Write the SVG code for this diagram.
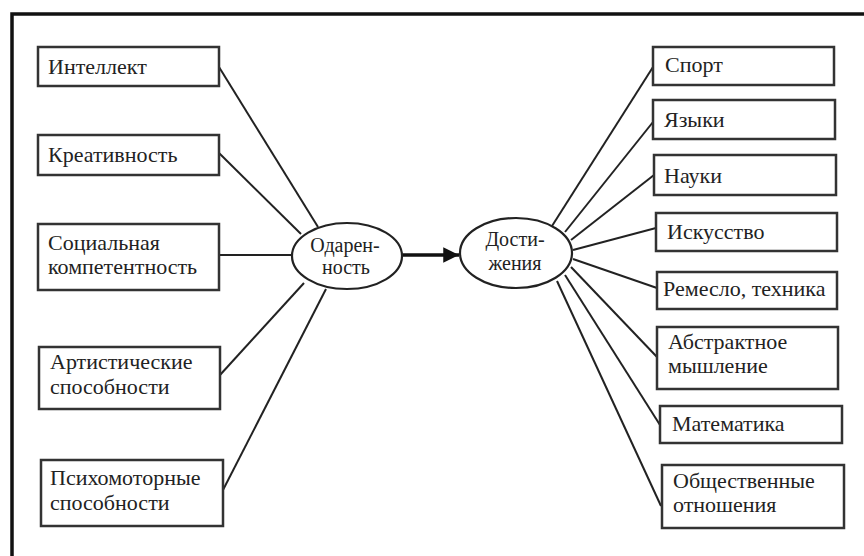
<svg xmlns="http://www.w3.org/2000/svg" width="864" height="556" viewBox="0 0 864 556" font-family="'Liberation Serif', 'DejaVu Serif', serif">
<defs>
<style>
.box{fill:#fff;stroke:#333;stroke-width:2.5}
.ell{fill:#fff;stroke:#222;stroke-width:2.2}
.t{font-family:'Liberation Serif', 'DejaVu Serif', serif;font-size:22px;fill:#222}
.e{font-size:20px}
.c{text-anchor:middle}
.ln{stroke:#222;stroke-width:2;fill:none}
</style>
<marker id="ah" viewBox="0 0 10 10" refX="10" refY="5" markerWidth="6" markerHeight="4.5" orient="auto" markerUnits="strokeWidth">
<path d="M0,0 L10,5 L0,10 Z" fill="#111"/>
</marker>
</defs>
<rect width="864" height="556" fill="#fff"/>
<path d="M12,556 L12,14 L864,14" fill="none" stroke="#111" stroke-width="3.5"/>
<g id="connectors">
<line class="ln" x1="219" y1="67" x2="318" y2="227"/>
<line class="ln" x1="219" y1="153" x2="301" y2="234"/>
<line class="ln" x1="219" y1="255" x2="292" y2="255"/>
<line class="ln" x1="220" y1="375" x2="304" y2="283"/>
<line class="ln" x1="223" y1="490" x2="326" y2="289"/>
<line x1="403" y1="255" x2="459" y2="255" stroke="#111" stroke-width="3.5" marker-end="url(#ah)"/>
<line class="ln" x1="552" y1="226" x2="653" y2="67"/>
<line class="ln" x1="565" y1="232" x2="653" y2="122"/>
<line class="ln" x1="571" y1="240" x2="654" y2="175"/>
<line class="ln" x1="573" y1="250" x2="656" y2="228"/>
<line class="ln" x1="573" y1="259" x2="657" y2="288"/>
<line class="ln" x1="571" y1="267" x2="657" y2="357"/>
<line class="ln" x1="565" y1="275" x2="660" y2="425"/>
<line class="ln" x1="557" y1="281" x2="661" y2="506"/>
</g>
<g id="intellekt"><rect class="box" x="38" y="47" width="181" height="39"/><text class="t" x="48" y="74">Интеллект</text></g>
<g id="kreativnost"><rect class="box" x="38" y="135" width="181" height="40"/><text class="t" x="48" y="162">Креативность</text></g>
<g id="socialnaya"><rect class="box" x="38" y="224" width="181" height="66"/><text class="t" x="48" y="250">Социальная</text><text class="t" x="48" y="274">компетентность</text></g>
<g id="artisticheskie"><rect class="box" x="39" y="347" width="181" height="62"/><text class="t" x="50" y="369">Артистические</text><text class="t" x="50" y="394">способности</text></g>
<g id="psihomotornye"><rect class="box" x="41" y="460" width="182" height="66"/><text class="t" x="50" y="485">Психомоторные</text><text class="t" x="50" y="510">способности</text></g>
<g id="odarennost"><ellipse class="ell" cx="347" cy="256" rx="55" ry="33"/><text class="t e c" x="345" y="252">Одарен-</text><text class="t e c" x="346" y="274">ность</text></g>
<g id="dostizheniya"><ellipse class="ell" cx="516" cy="253" rx="56" ry="35"/><text class="t e c" x="515" y="246">Дости-</text><text class="t e c" x="515" y="270">жения</text></g>
<g id="sport"><rect class="box" x="653" y="47" width="181" height="38"/><text class="t" x="665" y="72">Спорт</text></g>
<g id="yazyki"><rect class="box" x="653" y="100" width="182" height="39"/><text class="t" x="664" y="127">Языки</text></g>
<g id="nauki"><rect class="box" x="654" y="155" width="182" height="40"/><text class="t" x="664" y="183">Науки</text></g>
<g id="iskusstvo"><rect class="box" x="656" y="213" width="181" height="38"/><text class="t" x="667" y="239">Искусство</text></g>
<g id="remeslo"><rect class="box" x="657" y="272" width="180" height="37"/><text class="t" x="663" y="296">Ремесло, техника</text></g>
<g id="abstraktnoe"><rect class="box" x="657" y="327" width="181" height="62"/><text class="t" x="668" y="349">Абстрактное</text><text class="t" x="668" y="373">мышление</text></g>
<g id="matematika"><rect class="box" x="660" y="406" width="182" height="37"/><text class="t" x="672" y="431">Математика</text></g>
<g id="obshchestvennye"><rect class="box" x="662" y="465" width="182" height="63"/><text class="t" x="673" y="488">Общественные</text><text class="t" x="673" y="512">отношения</text></g>
</svg>
